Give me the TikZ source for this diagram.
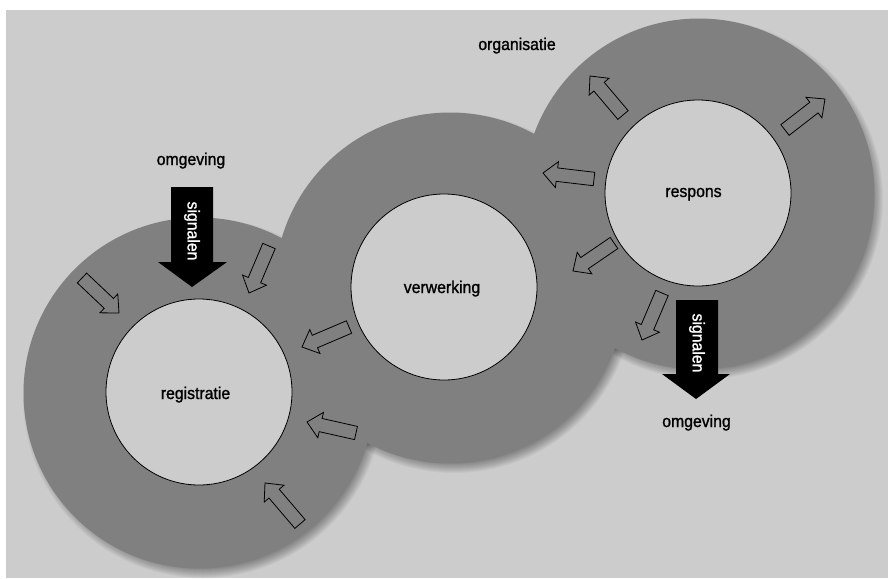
\documentclass[tikz,border=0pt]{standalone}
\usepackage{fontspec}
\setmainfont{Liberation Sans}[FakeBold=1.2, FakeStretch=0.93]
\usetikzlibrary{calc}
\definecolor{bg}{HTML}{CCCCCC}
\definecolor{ringgray}{HTML}{808080}
\tikzset{
  ringdisc/.style={fill=ringgray},
  ringshadow/.style={fill=black, opacity=0.035},
  innercircle/.style={circle, draw=black, line width=0.8pt, fill=bg, minimum size=186pt, inner sep=0pt},
  lbl/.style={font=\fontsize{17}{19}\selectfont, inner sep=0pt, anchor=base},
  sigtext/.style={text=white, rotate=-90, font=\fontsize{17}{19}\selectfont, inner sep=0pt},
  hollow/.style={fill=ringgray, draw=black, line width=0.8pt, line join=miter},
  blackarrow/.style={fill=black}
}
\newcommand\hollowarr[2]{%
  \coordinate (hS) at #1; \coordinate (hT) at #2;
  \coordinate (hB) at ($(hT)!14pt!(hS)$);
  \draw[hollow] ($(hS)!6.75pt!90:(hT)$) -- ($(hB)!6.75pt!90:(hT)$) -- ($(hB)!13pt!90:(hT)$) -- (hT)
    -- ($(hB)!13pt!-90:(hT)$) -- ($(hB)!6.75pt!-90:(hT)$) -- ($(hS)!6.75pt!-90:(hT)$) -- cycle;}
\begin{document}
\begin{tikzpicture}[x=1pt,y=-1pt]
\useasboundingbox (0,0) rectangle (888,578);
\fill[white] (0,0) rectangle (888,578);
\fill[bg] (6,10) rectangle (888,578);
% centres
\coordinate (cReg) at (199,392);
\coordinate (cVer) at (444,287);
\coordinate (cRes) at (698,193);
\coordinate (rReg) at (199,393);
\coordinate (rVer) at (450,288);
\coordinate (rRes) at (699,194);
% shadows
\foreach \c in {rReg,rVer,rRes}{
  \foreach \i in {0,...,11}{
    \fill[ringshadow] ($(\c)+(4,5)$) circle ({169pt+\i*1pt});
  }
}
% rings
\foreach \c in {rReg,rVer,rRes}{
  \fill[ringdisc] (\c) circle (175.5pt);
}
% inner circles
\node[innercircle] (reg) at (cReg) {};
\node[innercircle] (ver) at (cVer) {};
\node[innercircle] (res) at (cRes) {};
% labels
\node[lbl] (tReg) at (195.5,399) {registratie};
\node[lbl] (tVer) at (442,293) {verwerking};
\node[lbl] (tRes) at (693.5,197) {respons};
\node[lbl] (tOrg) at (517,50) {organisatie};
\node[lbl] (tOmg1) at (191,165) {omgeving};
\node[lbl] (tOmg2) at (696.5,427) {omgeving};
% black arrows
\fill[blackarrow] (171,187) -- (213,187) -- (213,262) -- (227,262) -- (192,287) -- (158,262) -- (171,262) -- cycle;
\node[sigtext] (sig1) at (192,231) {signalen};
\fill[blackarrow] (676,300) -- (718,300) -- (718,374) -- (730,374) -- (696,399) -- (662,374) -- (676,374) -- cycle;
\node[sigtext] (sig2) at (697,343) {signalen};
% hollow arrows
\hollowarr{(82,278)}{(119,313)}
\hollowarr{(269,246)}{(249,293)}
\hollowarr{(349,327)}{(302,347)}
\hollowarr{(356,433)}{(307,422)}
\hollowarr{(300,524)}{(265,483)}
\hollowarr{(623,115)}{(590,76)}
\hollowarr{(594,179)}{(543,173)}
\hollowarr{(614,243)}{(573,271)}
\hollowarr{(785,130)}{(825,99)}
\hollowarr{(662,293)}{(642,340)}
\end{tikzpicture}
\end{document}
